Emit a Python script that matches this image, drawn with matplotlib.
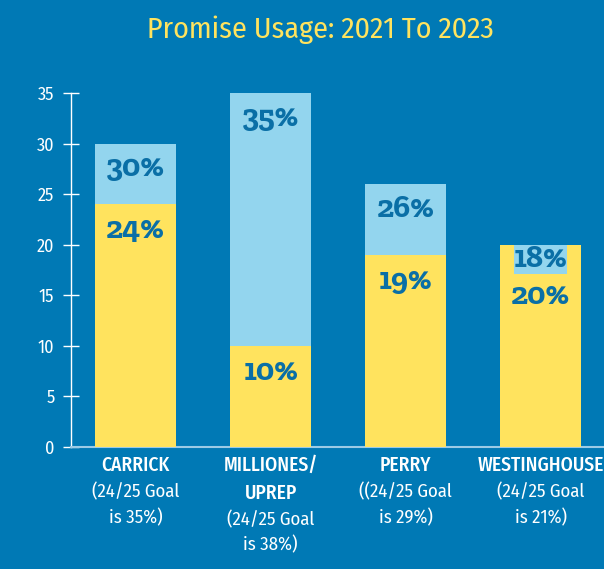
import matplotlib
matplotlib.use("Agg")
import matplotlib.pyplot as plt
from matplotlib import font_manager

# ---- data ----
schools = ["CARRICK", "MILLIONES/\nUPREP", "PERRY", "WESTINGHOUSE"]
goals = ["(24/25 Goal\nis 35%)", "(24/25 Goal\nis 38%)", "((24/25 Goal\nis 29%)", "(24/25 Goal\nis 21%)"]
usage_2021 = [30, 35, 26, 18]   # light blue bars
usage_2023 = [24, 10, 19, 20]   # yellow bars

# ---- style ----
bg = "#0079B5"
yellow = "#FFE35E"
light_blue = "#93D5EE"
label_col = "#0A6FA6"

fonts = font_manager.fontManager.ttflist
names = {f.name for f in fonts}

def pick(cands):
    for c in cands:
        if c in names:
            return c
    return "DejaVu Sans"

def pick_bold(cands):
    # need a real static bold file, not a variable font stuck on its default weight
    for c in cands:
        for f in fonts:
            if f.name == c and f.weight in (700, "bold") and "[" not in f.fname:
                return c
    return "DejaVu Serif"

narrow = pick(["Fira Sans Condensed", "Roboto Condensed", "Encode Sans Condensed"])
slab = pick_bold(["Zilla Slab", "Arvo", "Roboto Slab", "DejaVu Serif"])

fig = plt.figure(figsize=(6.04, 5.69), dpi=100, facecolor=bg)
ax = fig.add_axes([0.1176, 0.2144, 0.8824, 0.6222], facecolor=bg)

x = list(range(len(schools)))
w = 0.6
ax.bar(x, usage_2021, width=w, color=light_blue, zorder=2)
ax.bar(x, usage_2023, width=w, color=yellow, zorder=3)

# percentage labels
lab_kw = dict(ha="center", va="center", fontsize=23, fontweight="bold",
              family=[slab, "DejaVu Serif"], color=label_col, zorder=5)
for i in x:
    a, b = usage_2021[i], usage_2023[i]
    if a > b:
        ax.text(i, a - 2.5, f"{a}%", **lab_kw)
        ax.text(i, b - 2.6, f"{b}%", **lab_kw)
    else:
        # light blue bar hidden behind the yellow one -> label on a small box
        ax.text(i, a + 0.5, f"{a}%", **lab_kw,
                bbox=dict(boxstyle="square,pad=0.0", fc=light_blue, ec="none"))
        ax.text(i, b - 5.1, f"{b}%", **lab_kw)

ax.set_xlim(-0.48, 3.47)
ax.set_ylim(0, 35)
ax.set_yticks(range(0, 36, 5))
ax.set_xticks([])
for s in ["top", "right"]:
    ax.spines[s].set_visible(False)
ax.spines["left"].set_color("white")
ax.spines["bottom"].set_color("#9CCBE6")
ax.spines["left"].set_linewidth(1)
ax.spines["bottom"].set_linewidth(1.5)
ax.tick_params(axis="y", direction="inout", length=12, width=1, color="white",
               labelcolor="white", labelsize=13, pad=6)
for lab in ax.get_yticklabels():
    lab.set_family([narrow, "DejaVu Sans"])

# category labels
for i in x:
    ax.text(i, -0.025, schools[i], transform=ax.get_xaxis_transform(), ha="center",
            va="top", fontsize=14, family=[narrow, "DejaVu Sans"], fontweight="medium",
            color="white", linespacing=1.5)
    nlines = schools[i].count("\n") + 1
    ax.text(i, -0.025 - 0.077 * nlines, goals[i], transform=ax.get_xaxis_transform(),
            ha="center", va="top", fontsize=13.5, family=[narrow, "DejaVu Sans"],
            fontweight="normal", color="white", linespacing=1.5)

fig.text(0.53, 0.947, "Promise Usage: 2021 To 2023", ha="center", va="center",
         fontsize=21.5, family=[narrow, "DejaVu Sans"], color=yellow)

fig.savefig("out.png", dpi=100, facecolor=bg)
